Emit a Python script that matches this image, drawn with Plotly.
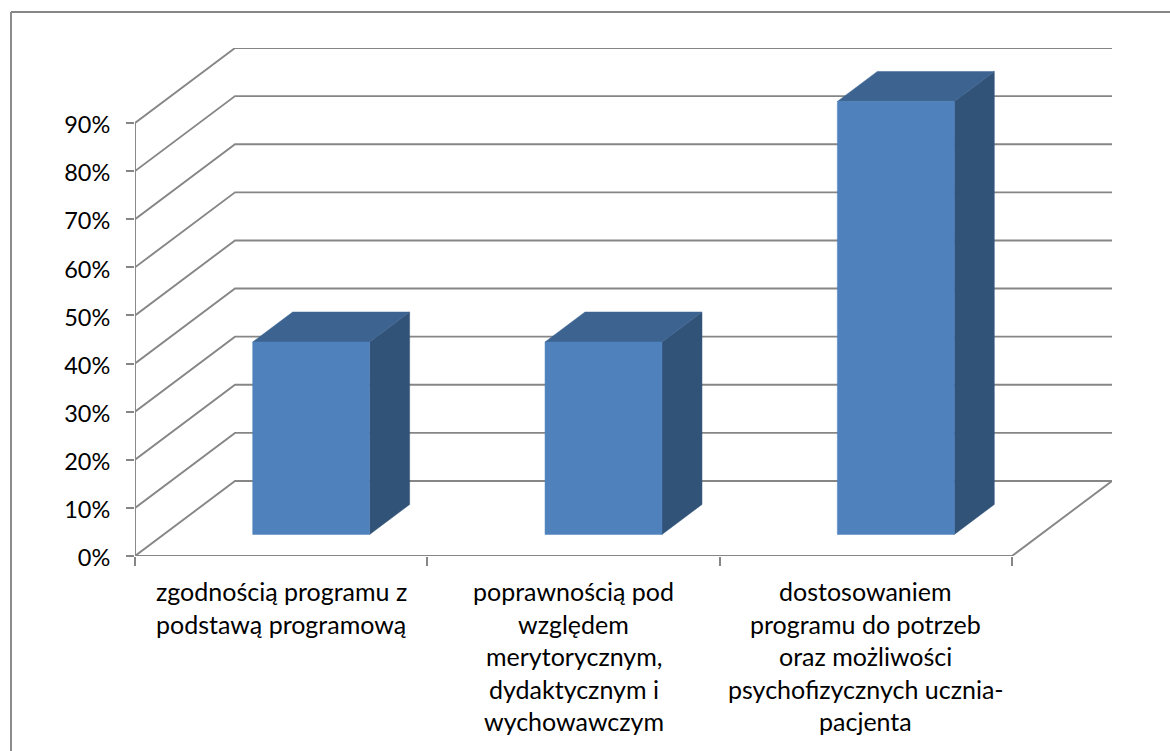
import plotly.graph_objects as go

categories = [
    ["zgodnością programu z", "podstawą programową"],
    ["poprawnością pod", "względem", "merytorycznym,", "dydaktycznym i", "wychowawczym"],
    ["dostosowaniem", "programu do potrzeb", "oraz możliwości", "psychofizycznych ucznia-", "pacjenta"],
]
values = [40, 40, 90]
y_ticks = [0, 10, 20, 30, 40, 50, 60, 70, 80, 90]
y_labels = [f"{v}%" for v in y_ticks]

# oblique projection of the depth axis onto the flat axes
DX = 100 / 292.33
DY = 75 / 4.811
BAR_W = 0.4
D0, D1 = 0.3, 0.7
BAR_DROP = 0.2  # bars sit a hair under the floor plane in the reference

FRONT = "#4F81BD"
TOP = "#3D6491"
SIDE = "#325378"
LINE = "#868686"


def P(x, v, d):
    return x + d * DX, v + d * DY


def line(pts, color=LINE, width=1.9):
    xs, ys = zip(*pts)
    return go.Scatter(x=xs, y=ys, mode="lines", line=dict(color=color, width=width),
                      hoverinfo="skip", showlegend=False, cliponaxis=False)


def poly(pts, color):
    xs, ys = zip(*(pts + pts[:1]))
    return go.Scatter(x=xs, y=ys, mode="lines", fill="toself", fillcolor=color,
                      line=dict(color=color, width=0.5), hoverinfo="skip",
                      showlegend=False, cliponaxis=False)


fig = go.Figure()
n = len(values)
for v in y_ticks:
    fig.add_trace(line([P(0, v, 0), P(0, v, 1), P(n, v, 1)]))
fig.add_trace(line([P(n, 0, 1), P(n, 0, 0), P(0, 0, 0), P(0, y_ticks[-1], 0)]))

for i, v in enumerate(values):
    c = i + 0.5
    l, r = c - BAR_W / 2, c + BAR_W / 2
    b, t = -BAR_DROP, v - BAR_DROP
    fig.add_trace(poly([P(r, b, D0), P(r, b, D1), P(r, t, D1), P(r, t, D0)], SIDE))
    fig.add_trace(poly([P(l, t, D0), P(r, t, D0), P(r, t, D1), P(l, t, D1)], TOP))
    fig.add_trace(poly([P(l, b, D0), P(r, b, D0), P(r, t, D0), P(l, t, D0)], FRONT))

FONT = "Lato, Carlito, Calibri, sans-serif"
LINE_H = 32.5
annotations = []
for i, lines in enumerate(categories):
    for j, t in enumerate(lines):
        annotations.append(dict(x=i + 0.5, y=0, xref="x", yref="y", text=t, showarrow=False,
                                xanchor="center", yanchor="middle",
                                yshift=-(35 + j * LINE_H),
                                font=dict(family=FONT, size=25, color="#000000")))

W, H = 1170, 751
L, R, T, B = 135, 1112, 48, 556
sx = lambda px: (px - L) / (R - L)
sy = lambda py: (B - py) / (B - T)
fig.update_layout(
    width=W, height=H, autosize=False,
    margin=dict(l=L, r=W - R, t=T, b=H - B, pad=0),
    paper_bgcolor="#FFFFFF", plot_bgcolor="#FFFFFF",
    xaxis=dict(range=[0, n + DX], tickvals=list(range(n + 1)), ticktext=[""] * (n + 1),
               ticks="outside", ticklen=9, tickwidth=1.6, tickcolor=LINE,
               showgrid=False, zeroline=False, showline=False, fixedrange=True),
    yaxis=dict(range=[0, y_ticks[-1] + DY], tickvals=y_ticks, ticktext=y_labels,
               ticks="outside", ticklen=8, tickwidth=1.6, tickcolor=LINE,
               ticklabelstandoff=11, ticklabelshift=2,
               tickfont=dict(family=FONT, size=23.5, color="#000000"),
               showgrid=False, zeroline=False, showline=False, fixedrange=True),
    annotations=annotations,
    shapes=[dict(type="line", xref="paper", yref="paper",
                 x0=sx(11), x1=sx(1175), y0=sy(12), y1=sy(12),
                 line=dict(color=LINE, width=1.9), layer="below"),
            dict(type="line", xref="paper", yref="paper",
                 x0=sx(11), x1=sx(11), y0=sy(12), y1=sy(760),
                 line=dict(color=LINE, width=1.9), layer="below")],
)
fig.write_html("out.html", config=dict(displayModeBar=False),
               post_script="document.body.style.margin='0';document.body.style.overflow='hidden';")
